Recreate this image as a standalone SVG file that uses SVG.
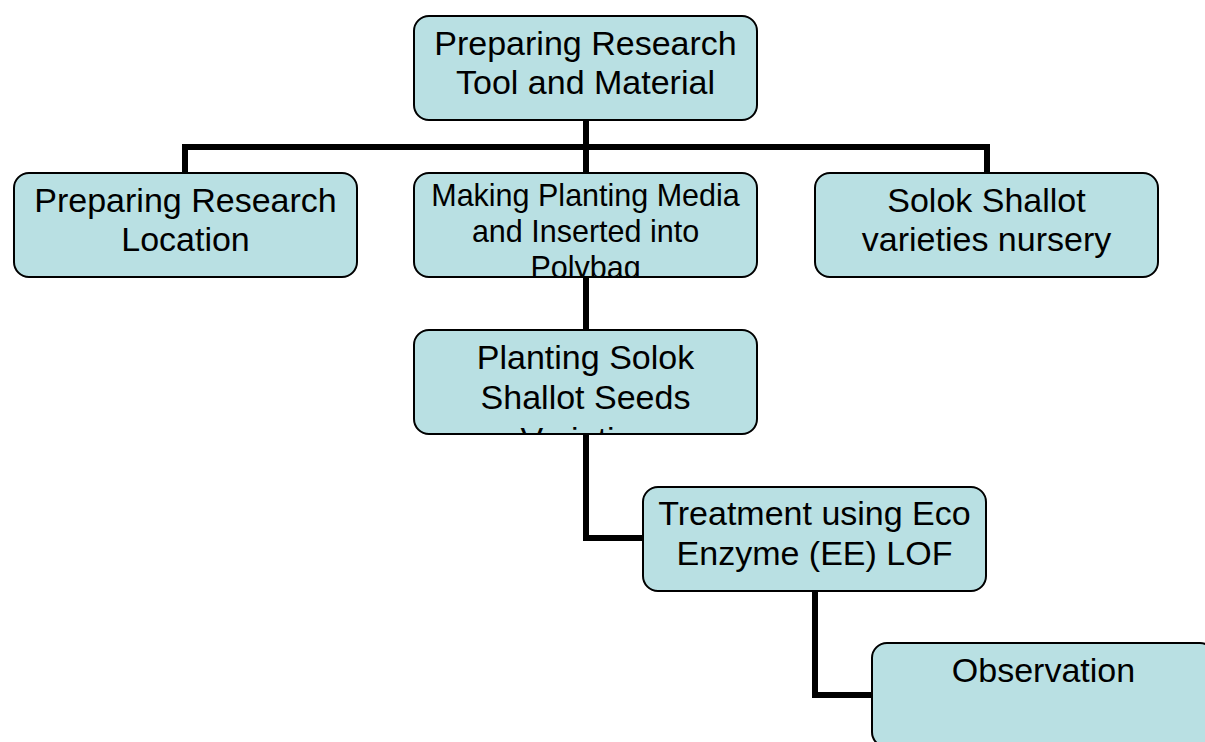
<svg xmlns="http://www.w3.org/2000/svg" width="1205" height="742" viewBox="0 0 1205 742">
<style>
.box{fill:#b9e0e3;stroke:#000;stroke-width:2}
.t{font-family:"Liberation Sans",Arial,sans-serif;font-size:34px;fill:#000;text-anchor:middle}
.s{font-size:30.5px}
.c{fill:none;stroke:#000;stroke-width:6;stroke-linejoin:miter;stroke-linecap:butt}
</style>
<defs>
<clipPath id="clipMedia"><rect x="414" y="173" width="343" height="104" rx="15"/></clipPath>
<clipPath id="clipPlant"><rect x="414" y="330" width="343" height="104" rx="15"/></clipPath>
</defs>
<rect width="1205" height="742" fill="#fff"/>
<g id="connectors">
<path class="c" d="M586 120 V173"/>
<path class="c" d="M185 173 V147 H987 V173"/>
<path class="c" d="M586 277 V330"/>
<path class="c" d="M586 434 V538 H643"/>
<path class="c" d="M815 591 V695 H872"/>
</g>
<g id="tool">
<rect class="box" x="414" y="16" width="343" height="104" rx="15"/>
<text class="t" x="585.5" y="54.5">Preparing Research</text>
<text class="t" x="585.5" y="94">Tool and Material</text>
</g>
<g id="location">
<rect class="box" x="14" y="173" width="343" height="104" rx="15"/>
<text class="t" x="185.5" y="212">Preparing Research</text>
<text class="t" x="185.5" y="251">Location</text>
</g>
<g id="media">
<rect class="box" x="414" y="173" width="343" height="104" rx="15"/>
<g clip-path="url(#clipMedia)">
<text class="t s" x="585.5" y="206">Making Planting Media</text>
<text class="t s" x="585.5" y="242">and Inserted into</text>
<text class="t s" x="585.5" y="278">Polybag</text>
</g>
</g>
<g id="nursery">
<rect class="box" x="815" y="173" width="343" height="104" rx="15"/>
<text class="t" x="986.5" y="212">Solok Shallot</text>
<text class="t" x="986.5" y="251">varieties nursery</text>
</g>
<g id="planting">
<rect class="box" x="414" y="330" width="343" height="104" rx="15"/>
<g clip-path="url(#clipPlant)">
<text class="t" x="585.5" y="369">Planting Solok</text>
<text class="t" x="585.5" y="408.5">Shallot Seeds</text>
<text class="t" x="585.5" y="451">Varieties</text>
</g>
</g>
<g id="treatment">
<rect class="box" x="643" y="487" width="343" height="104" rx="15"/>
<text class="t" x="814.5" y="525">Treatment using Eco</text>
<text class="t" x="814.5" y="564.5">Enzyme (EE) LOF</text>
</g>
<g id="observation">
<rect class="box" x="872" y="643" width="343" height="104" rx="15"/>
<text class="t" x="1043.5" y="681.5">Observation</text>
</g>
</svg>
